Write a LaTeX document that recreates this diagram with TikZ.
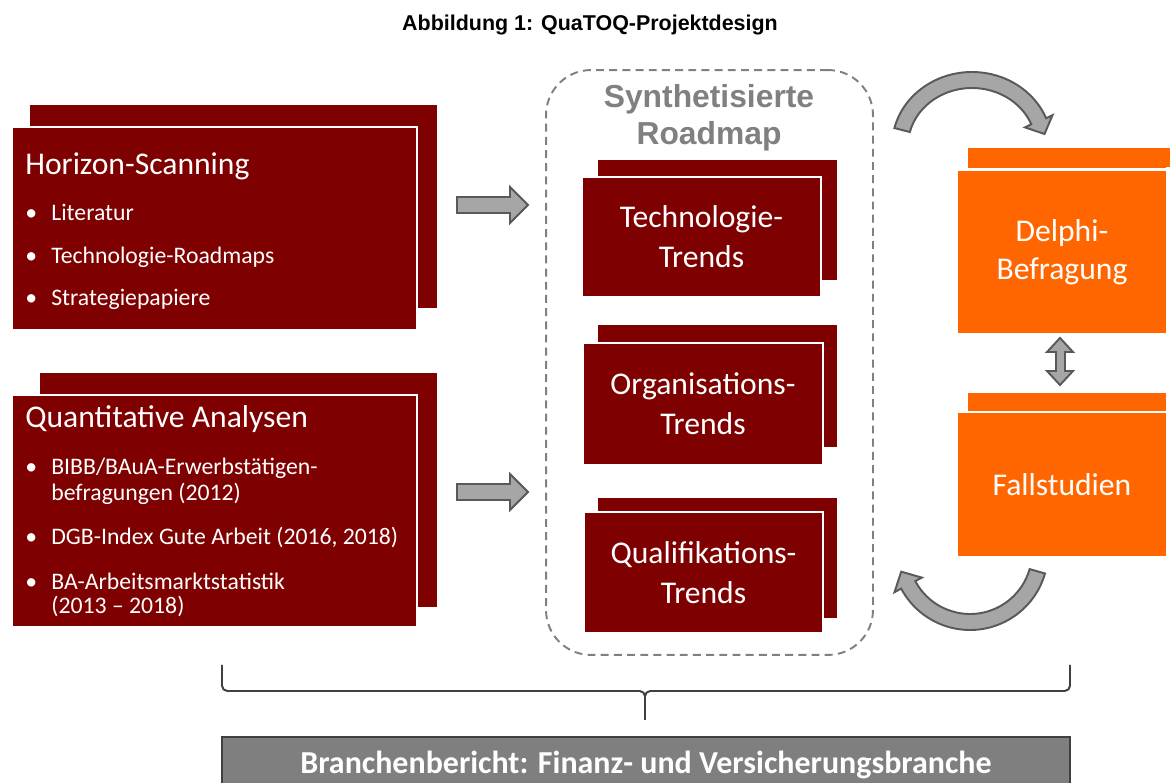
\documentclass[tikz,border=0pt]{standalone}
\usepackage{fontspec}
\setmainfont{Carlito}
\newfontfamily\arialfont{Liberation Sans}

\definecolor{darkred}{HTML}{7F0000}
\definecolor{qorange}{HTML}{FF6600}
\definecolor{arrowfill}{HTML}{A6A6A6}
\definecolor{arrowedge}{HTML}{595959}
\definecolor{framegray}{HTML}{808080}
\definecolor{reportgray}{HTML}{7F7F7F}
\definecolor{braceline}{HTML}{404040}

\newcommand{\bul}{\makebox[0.52cm][l]{\textbullet}}

\begin{document}
\begin{tikzpicture}[x=0.02cm, y=-0.02cm,
            backbox/.style={rectangle, fill=darkred, inner sep=0pt},
            frontbox/.style={rectangle, fill=darkred, draw=white, line width=1pt, inner sep=0pt,
                text=white, align=center, font=\fontsize{18}{22.7}\selectfont},
            orangeback/.style={rectangle, fill=qorange, inner sep=0pt},
            orangefront/.style={rectangle, fill=qorange, draw=white, line width=1.6pt, inner sep=0pt,
                text=white, align=center, font=\fontsize{18}{21.5}\selectfont},
            heading/.style={anchor=base west, inner sep=0pt, text=white, font=\fontsize{18}{21}\selectfont},
            item/.style={anchor=base west, inner sep=0pt, text=white, font=\fontsize{13.5}{16}\selectfont},
            blockarrow/.style={fill=arrowfill, draw=arrowedge, line width=1.1pt, line join=miter},
            ]
            \useasboundingbox[fill=white] (0,0) rectangle (1171,783);

            % title
            \node[font=\arialfont\bfseries\fontsize{12.2}{14}\selectfont] (title) at (590,25) {Abbildung 1: QuaTOQ-Projektdesign};

            % left column
            \node[backbox, minimum width=8.14cm, minimum height=4.06cm] (hsback) at (233.5,206.5) {};
            \node[frontbox, minimum width=8.1cm, minimum height=4.06cm] (hs) at (214.5,228.5) {};
            \node[heading] (hshead) at (25,175) {Horizon-Scanning};
            \node[item] (hs1) at (25,221) {\bul Literatur};
            \node[item] (hs2) at (25,264) {\bul Technologie-Roadmaps};
            \node[item] (hs3) at (25,306) {\bul Strategiepapiere};

            \node[backbox, minimum width=7.94cm, minimum height=4.68cm] (qaback) at (238.5,490) {};
            \node[frontbox, minimum width=8.1cm, minimum height=4.64cm] (qa) at (214.5,511) {};
            \node[heading] (qahead) at (25,428) {Quantitative Analysen};
            \node[item] (qa1) at (25,475) {\bul BIBB/BAuA-Erwerbstätigen-};
            \node[item] (qa1b) at (51,501) {befragungen (2012)};
            \node[item] (qa2) at (25,545) {\bul DGB-Index Gute Arbeit (2016, 2018)};
            \node[item] (qa3) at (25,590) {\bul BA-Arbeitsmarktstatistik};
            \node[item] (qa3b) at (51,614) {(2013 -- 2018)};

            % synthesised roadmap
            \node[draw=framegray, line width=1.1pt, dash pattern=on 4.5pt off 3pt, rounded corners=0.9cm,
                minimum width=6.54cm, minimum height=11.7cm] (roadmap) at (709.5,362.5) {};
            \node[text=framegray, align=center, font=\arialfont\bfseries\fontsize{18.1}{21}\selectfont] (roadmaplabel) at (709,117.5) {Synthetisierte\\Roadmap};

            \node[backbox, minimum width=4.78cm, minimum height=2.4cm] (techback) at (717.5,220) {};
            \node[frontbox, minimum width=4.78cm, minimum height=2.4cm] (tech) at (701.5,237) {Technologie-\\Trends};
            \node[backbox, minimum width=4.78cm, minimum height=2.44cm] (orgback) at (717.5,386) {};
            \node[frontbox, minimum width=4.8cm, minimum height=2.44cm] (org) at (703,404) {Organisations-\\Trends};
            \node[backbox, minimum width=4.78cm, minimum height=2.4cm] (qualback) at (717.5,558) {};
            \node[frontbox, minimum width=4.78cm, minimum height=2.42cm] (qual) at (703.5,572.5) {Qualifikations-\\Trends};

            % right column
            \node[orangeback, minimum width=4.04cm, minimum height=3.3cm] (delphiback) at (1069,230.5) {};
            \node[orangefront, minimum width=4.2cm, minimum height=3.3cm] (delphi) at (1062,252) {Delphi-\\Befragung};
            \node[orangeback, minimum width=4.04cm, minimum height=2.9cm] (fallback) at (1069,465.5) {};
            \node[orangefront, minimum width=4.2cm, minimum height=2.9cm] (fall) at (1062,484.5) {Fallstudien};
            \fill[white] (1166,167) rectangle (1172,560);

            % arrows
            \foreach \ay in {205,492}
                \draw[blockarrow] (457,\ay-8) -- (510,\ay-8) -- (510,\ay-18) -- (528,\ay) -- (510,\ay+18)
                    -- (510,\ay+8) -- (457,\ay+8) -- cycle;
            \draw[blockarrow] (1060,338) -- (1073,352) -- (1065,352) -- (1065,371) -- (1073,371) -- (1060,385)
                -- (1047,371) -- (1056,371) -- (1056,352) -- (1047,352) -- cycle;
            \draw[blockarrow] (894.4,128.1) arc[start angle=166, end angle=22, x radius=1.6cm, y radius=1.48cm]
                -- (1052.5,115.2) -- (1044.5,134) -- (1025,127.4) -- (1031.3,124.3)
                arc[start angle=22, end angle=166, x radius=1.28cm, y radius=1.16cm] -- cycle;
            \draw[blockarrow] (1045,573.5) arc[start angle=-16, end angle=-152, radius=1.56cm]
                -- (894.5,592.2) -- (901.2,571.7) -- (921.9,577.6) -- (915.3,581.1)
                arc[start angle=-152, end angle=-16, radius=1.24cm] -- cycle;

            % brace and report
            \draw[braceline, line width=1.1pt, rounded corners=3pt] (222,665) -- (222,691) -- (645,691) -- (645,720);
            \draw[braceline, line width=1.1pt, rounded corners=3pt] (1070,665) -- (1070,691) -- (645,691) -- (645,720);
            \node[fill=reportgray, draw=braceline, line width=1.1pt, minimum width=16.96cm, minimum height=1.1cm,
                text=white, font=\bfseries\fontsize{18.2}{20}\selectfont] (report) at (646,764.5)
                {Branchenbericht: Finanz- und Versicherungsbranche};
        \end{tikzpicture}
\end{document}
